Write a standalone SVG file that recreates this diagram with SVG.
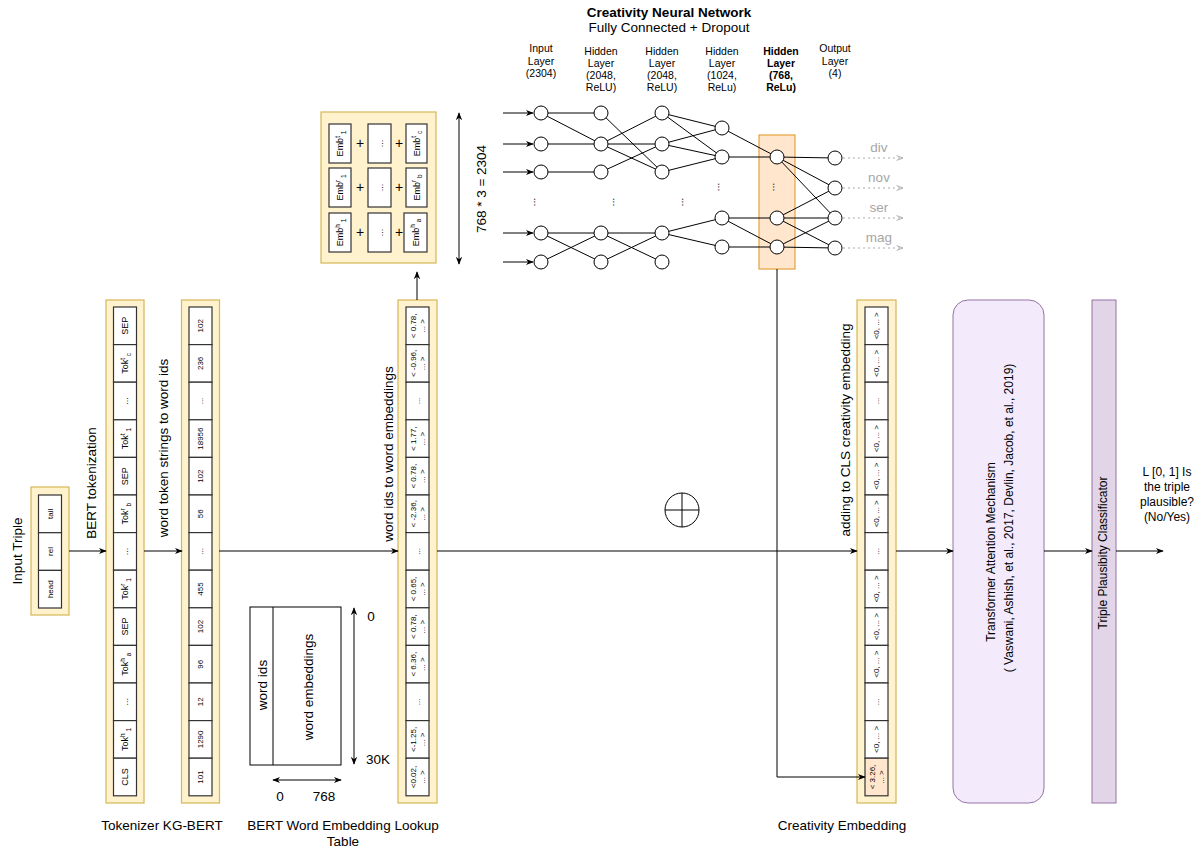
<svg xmlns="http://www.w3.org/2000/svg" width="1203" height="850" viewBox="0 0 1203 850">
<defs>
<style>
text{font-family:"Liberation Sans",Arial,Helvetica,sans-serif}
.y{fill:#fff2cc;stroke:#d6b656;stroke-width:1.2}
.c{fill:#fff;stroke:#333;stroke-width:1.2}
.co{fill:#ffe6cc;stroke:#333;stroke-width:1.2}
.ln{stroke:#000;stroke-width:1;fill:none}
.ar{stroke:#000;stroke-width:1;fill:none;marker-end:url(#ah)}
.da{stroke:#000;stroke-width:1;fill:none;marker-end:url(#ah);marker-start:url(#ah)}
.go{stroke:#aaa;stroke-width:1;fill:none;stroke-dasharray:2 3;marker-end:url(#ga)}
.n{fill:#fff;stroke:#000;stroke-width:1}
.s8{font-size:8px}
.s9{font-size:9px}
.s10{font-size:10.5px}
.s13{font-size:13.5px}
.g13 text{font-size:13.5px;fill:#a6a6a6}
</style>
<marker id="ah" viewBox="0 0 10 10" refX="9" refY="5" markerWidth="8" markerHeight="8" markerUnits="userSpaceOnUse" orient="auto-start-reverse">
<path d="M0,1 L10,5 L0,9 L3,5 z" fill="#000"/>
</marker>
<marker id="ga" viewBox="0 0 10 10" refX="9" refY="5" markerWidth="8" markerHeight="8" markerUnits="userSpaceOnUse" orient="auto">
<path d="M1,2 L9,5 L1,8" fill="none" stroke="#aaa" stroke-width="1.2"/>
</marker>
</defs>

<g id="input-triple">
<rect class="y" x="31" y="487" width="38" height="128"/>
<rect class="c" x="38.5" y="495" width="23" height="37.7"/>
<rect class="c" x="38.5" y="532.7" width="23" height="37.7"/>
<rect class="c" x="38.5" y="570.4" width="23" height="37.6"/>
<text class="s8" text-anchor="middle" dy="0.35em" transform="translate(50,513.8) rotate(-90)">tail</text>
<text class="s8" text-anchor="middle" dy="0.35em" transform="translate(50,551.5) rotate(-90)">rel</text>
<text class="s8" text-anchor="middle" dy="0.35em" transform="translate(50,589.2) rotate(-90)">head</text>
<text class="s13" text-anchor="middle" dy="0.35em" transform="translate(17,551) rotate(-90)">Input Triple</text>
</g>

<g id="labels-edges">
<text class="s13" text-anchor="middle" dy="0.35em" transform="translate(91,483) rotate(-90)">BERT tokenization</text>
<text class="s13" text-anchor="middle" dy="0.35em" transform="translate(163,448) rotate(-90)">word token strings to word ids</text>
<text class="s13" text-anchor="middle" dy="0.35em" transform="translate(388,454) rotate(-90)">word ids to word embeddings</text>
<text class="s13" text-anchor="middle" dy="0.35em" transform="translate(845,430) rotate(-90)">adding  to CLS creativity embedding</text>
<text class="s13" text-anchor="middle" dy="0.35em" transform="translate(481,189) rotate(-90)">768 * 3 = 2304</text>
</g>

<g id="tokenizer">
<rect class="y" x="106" y="300" width="38" height="503"/>
<rect class="c" x="113.5" y="307" width="23" height="37.6"/>
<rect class="c" x="113.5" y="344.6" width="23" height="37.6"/>
<rect class="c" x="113.5" y="382.2" width="23" height="37.6"/>
<rect class="c" x="113.5" y="419.8" width="23" height="37.6"/>
<rect class="c" x="113.5" y="457.4" width="23" height="37.6"/>
<rect class="c" x="113.5" y="495" width="23" height="37.6"/>
<rect class="c" x="113.5" y="532.6" width="23" height="37.6"/>
<rect class="c" x="113.5" y="570.2" width="23" height="37.6"/>
<rect class="c" x="113.5" y="607.8" width="23" height="37.6"/>
<rect class="c" x="113.5" y="645.4" width="23" height="37.6"/>
<rect class="c" x="113.5" y="683" width="23" height="37.6"/>
<rect class="c" x="113.5" y="720.6" width="23" height="37.6"/>
<rect class="c" x="113.5" y="758.2" width="23" height="37.6"/>
<g class="s9" text-anchor="middle">
<text dy="0.35em" transform="translate(125,325.8) rotate(-90)">SEP</text>
<text dy="0.35em" transform="translate(125,363.4) rotate(-90)">Tok<tspan font-size="6.5" dy="-3.5">t</tspan><tspan font-size="6.5" dy="6"> c</tspan></text>
<text dy="0.35em" transform="translate(125,401) rotate(-90)">...</text>
<text dy="0.35em" transform="translate(125,438.6) rotate(-90)">Tok<tspan font-size="6.5" dy="-3.5">t</tspan><tspan font-size="6.5" dy="6"> 1</tspan></text>
<text dy="0.35em" transform="translate(125,476.2) rotate(-90)">SEP</text>
<text dy="0.35em" transform="translate(125,513.8) rotate(-90)">Tok<tspan font-size="6.5" dy="-3.5">r</tspan><tspan font-size="6.5" dy="6"> b</tspan></text>
<text dy="0.35em" transform="translate(125,551.4) rotate(-90)">...</text>
<text dy="0.35em" transform="translate(125,589) rotate(-90)">Tok<tspan font-size="6.5" dy="-3.5">r</tspan><tspan font-size="6.5" dy="6"> 1</tspan></text>
<text dy="0.35em" transform="translate(125,626.6) rotate(-90)">SEP</text>
<text dy="0.35em" transform="translate(125,664.2) rotate(-90)">Tok<tspan font-size="6.5" dy="-3.5">h</tspan><tspan font-size="6.5" dy="6"> a</tspan></text>
<text dy="0.35em" transform="translate(125,701.8) rotate(-90)">...</text>
<text dy="0.35em" transform="translate(125,739.4) rotate(-90)">Tok<tspan font-size="6.5" dy="-3.5">h</tspan><tspan font-size="6.5" dy="6"> 1</tspan></text>
<text dy="0.35em" transform="translate(125,777) rotate(-90)">CLS</text>
</g>
<text class="s13" x="162" y="830" text-anchor="middle">Tokenizer KG-BERT</text>
</g>

<g id="word-ids">
<rect class="y" x="181.5" y="300" width="38" height="503"/>
<rect class="c" x="189" y="307" width="23" height="37.6"/>
<rect class="c" x="189" y="344.6" width="23" height="37.6"/>
<rect class="c" x="189" y="382.2" width="23" height="37.6"/>
<rect class="c" x="189" y="419.8" width="23" height="37.6"/>
<rect class="c" x="189" y="457.4" width="23" height="37.6"/>
<rect class="c" x="189" y="495" width="23" height="37.6"/>
<rect class="c" x="189" y="532.6" width="23" height="37.6"/>
<rect class="c" x="189" y="570.2" width="23" height="37.6"/>
<rect class="c" x="189" y="607.8" width="23" height="37.6"/>
<rect class="c" x="189" y="645.4" width="23" height="37.6"/>
<rect class="c" x="189" y="683" width="23" height="37.6"/>
<rect class="c" x="189" y="720.6" width="23" height="37.6"/>
<rect class="c" x="189" y="758.2" width="23" height="37.6"/>
<g class="s8" text-anchor="middle">
<text dy="0.35em" transform="translate(200.5,325.8) rotate(-90)">102</text>
<text dy="0.35em" transform="translate(200.5,363.4) rotate(-90)">236</text>
<text dy="0.35em" transform="translate(200.5,401) rotate(-90)">...</text>
<text dy="0.35em" transform="translate(200.5,438.6) rotate(-90)">18956</text>
<text dy="0.35em" transform="translate(200.5,476.2) rotate(-90)">102</text>
<text dy="0.35em" transform="translate(200.5,513.8) rotate(-90)">56</text>
<text dy="0.35em" transform="translate(200.5,551.4) rotate(-90)">...</text>
<text dy="0.35em" transform="translate(200.5,589) rotate(-90)">455</text>
<text dy="0.35em" transform="translate(200.5,626.6) rotate(-90)">102</text>
<text dy="0.35em" transform="translate(200.5,664.2) rotate(-90)">96</text>
<text dy="0.35em" transform="translate(200.5,701.8) rotate(-90)">12</text>
<text dy="0.35em" transform="translate(200.5,739.4) rotate(-90)">1290</text>
<text dy="0.35em" transform="translate(200.5,777) rotate(-90)">101</text>
</g>
</g>

<g id="lookup-table">
<rect x="250" y="607" width="91" height="158" fill="#fff" stroke="#000" stroke-width="1"/>
<line class="ln" x1="273" y1="607" x2="273" y2="765"/>
<text class="s13" text-anchor="middle" dy="0.35em" transform="translate(262,685) rotate(-90)">word ids</text>
<text class="s13" text-anchor="middle" dy="0.35em" transform="translate(308,687) rotate(-90)">word embeddings</text>
<text class="s13" x="371" y="621" text-anchor="middle">0</text>
<text class="s13" x="378" y="764" text-anchor="middle">30K</text>
<text class="s13" x="280" y="801" text-anchor="middle">0</text>
<text class="s13" x="324" y="801" text-anchor="middle">768</text>
<text class="s13" x="343" y="830" text-anchor="middle">BERT Word Embedding Lookup</text>
<text class="s13" x="343" y="846" text-anchor="middle">Table</text>
</g>

<g id="word-embeddings">
<rect class="y" x="398" y="300" width="39" height="503"/>
<rect class="c" x="406" y="307" width="23" height="37.6"/>
<rect class="c" x="406" y="344.6" width="23" height="37.6"/>
<rect class="c" x="406" y="382.2" width="23" height="37.6"/>
<rect class="c" x="406" y="419.8" width="23" height="37.6"/>
<rect class="c" x="406" y="457.4" width="23" height="37.6"/>
<rect class="c" x="406" y="495" width="23" height="37.6"/>
<rect class="c" x="406" y="532.6" width="23" height="37.6"/>
<rect class="c" x="406" y="570.2" width="23" height="37.6"/>
<rect class="c" x="406" y="607.8" width="23" height="37.6"/>
<rect class="c" x="406" y="645.4" width="23" height="37.6"/>
<rect class="c" x="406" y="683" width="23" height="37.6"/>
<rect class="c" x="406" y="720.6" width="23" height="37.6"/>
<rect class="c" x="406" y="758.2" width="23" height="37.6"/>
<g class="s8" text-anchor="middle">
<text transform="translate(417.5,325.8) rotate(-90)"><tspan x="0" dy="-1.5">&lt; 0.78,</tspan><tspan x="0" dy="9">... &gt;</tspan></text>
<text transform="translate(417.5,363.4) rotate(-90)"><tspan x="0" dy="-1.5">&lt; -0.96,</tspan><tspan x="0" dy="9">... &gt;</tspan></text>
<text dy="0.35em" transform="translate(417.5,401) rotate(-90)">...</text>
<text transform="translate(417.5,438.6) rotate(-90)"><tspan x="0" dy="-1.5">&lt; 1.77,</tspan><tspan x="0" dy="9">... &gt;</tspan></text>
<text transform="translate(417.5,476.2) rotate(-90)"><tspan x="0" dy="-1.5">&lt; 0.78,</tspan><tspan x="0" dy="9">... &gt;</tspan></text>
<text transform="translate(417.5,513.8) rotate(-90)"><tspan x="0" dy="-1.5">&lt; -2.36,</tspan><tspan x="0" dy="9">... &gt;</tspan></text>
<text dy="0.35em" transform="translate(417.5,551.4) rotate(-90)">...</text>
<text transform="translate(417.5,589) rotate(-90)"><tspan x="0" dy="-1.5">&lt; 0.65,</tspan><tspan x="0" dy="9">... &gt;</tspan></text>
<text transform="translate(417.5,626.6) rotate(-90)"><tspan x="0" dy="-1.5">&lt; 0.78,</tspan><tspan x="0" dy="9">... &gt;</tspan></text>
<text transform="translate(417.5,664.2) rotate(-90)"><tspan x="0" dy="-1.5">&lt; 6.36,</tspan><tspan x="0" dy="9">... &gt;</tspan></text>
<text dy="0.35em" transform="translate(417.5,701.8) rotate(-90)">...</text>
<text transform="translate(417.5,739.4) rotate(-90)"><tspan x="0" dy="-1.5">&lt;-1.25,</tspan><tspan x="0" dy="9">... &gt;</tspan></text>
<text transform="translate(417.5,777) rotate(-90)"><tspan x="0" dy="-1.5">&lt;0.02,</tspan><tspan x="0" dy="9">... &gt;</tspan></text>
</g>
</g>

<g id="embedding-sum">
<rect class="y" x="321" y="112" width="115" height="151"/>
<rect class="c" x="329" y="124" width="22" height="39"/>
<rect class="c" x="368" y="124" width="23" height="39"/>
<rect class="c" x="406" y="124" width="21" height="39"/>
<rect class="c" x="329" y="168" width="22" height="39"/>
<rect class="c" x="368" y="168" width="23" height="39"/>
<rect class="c" x="406" y="168" width="21" height="39"/>
<rect class="c" x="329" y="213" width="22" height="39"/>
<rect class="c" x="368" y="213" width="23" height="39"/>
<rect class="c" x="404" y="213" width="23" height="39"/>
<g font-size="14" text-anchor="middle">
<text x="360" y="148">+</text><text x="399" y="148">+</text>
<text x="360" y="192">+</text><text x="399" y="192">+</text>
<text x="360" y="237">+</text><text x="399" y="237">+</text>
</g>
<g class="s9" text-anchor="middle">
<text dy="0.35em" transform="translate(340,143.5) rotate(-90)">Emb<tspan font-size="6.5" dy="-3.5">t</tspan><tspan font-size="6.5" dy="6"> 1</tspan></text>
<text dy="0.35em" transform="translate(379.5,143.5) rotate(-90)">...</text>
<text dy="0.35em" transform="translate(416.5,143.5) rotate(-90)">Emb<tspan font-size="6.5" dy="-3.5">t</tspan><tspan font-size="6.5" dy="6"> c</tspan></text>
<text dy="0.35em" transform="translate(340,187.5) rotate(-90)">Emb<tspan font-size="6.5" dy="-3.5">r</tspan><tspan font-size="6.5" dy="6"> 1</tspan></text>
<text dy="0.35em" transform="translate(379.5,187.5) rotate(-90)">...</text>
<text dy="0.35em" transform="translate(416.5,187.5) rotate(-90)">Emb<tspan font-size="6.5" dy="-3.5">r</tspan><tspan font-size="6.5" dy="6"> b</tspan></text>
<text dy="0.35em" transform="translate(340,232.5) rotate(-90)">Emb<tspan font-size="6.5" dy="-3.5">h</tspan><tspan font-size="6.5" dy="6"> 1</tspan></text>
<text dy="0.35em" transform="translate(379.5,232.5) rotate(-90)">...</text>
<text dy="0.35em" transform="translate(415.5,232.5) rotate(-90)">Emb<tspan font-size="6.5" dy="-3.5">h</tspan><tspan font-size="6.5" dy="6"> a</tspan></text>
</g>
</g>

<g id="neural-network">
<text x="669" y="16.5" font-size="13.5" font-weight="bold" text-anchor="middle">Creativity Neural Network</text>
<text x="669" y="31.5" class="s13" text-anchor="middle">Fully Connected + Dropout</text>
<g class="s10" text-anchor="middle">
<text x="541" y="52">Input</text><text x="541" y="64.5">Layer</text><text x="541" y="76.5">(2304)</text>
<text x="601" y="55">Hidden</text><text x="601" y="67">Layer</text><text x="601" y="79">(2048,</text><text x="601" y="91">ReLU)</text>
<text x="662" y="55">Hidden</text><text x="662" y="67">Layer</text><text x="662" y="79">(2048,</text><text x="662" y="91">ReLU)</text>
<text x="722" y="55">Hidden</text><text x="722" y="67">Layer</text><text x="722" y="79">(1024,</text><text x="722" y="91">ReLu)</text>
<g font-weight="bold"><text x="781" y="55">Hidden</text><text x="781" y="67">Layer</text><text x="781" y="79">(768,</text><text x="781" y="91">ReLu)</text></g>
<text x="835" y="52">Output</text><text x="835" y="64.5">Layer</text><text x="835" y="76.5">(4)</text>
</g>
<rect x="759" y="135" width="36" height="134" fill="#ffe6cc" stroke="#e6a23c" stroke-width="1.2"/>
<g class="ln">
<line x1="503" y1="113" x2="533" y2="113" marker-end="url(#ah)"/>
<line x1="503" y1="144" x2="533" y2="144" marker-end="url(#ah)"/>
<line x1="503" y1="172" x2="533" y2="172" marker-end="url(#ah)"/>
<line x1="503" y1="233" x2="533" y2="233" marker-end="url(#ah)"/>
<line x1="503" y1="262" x2="533" y2="262" marker-end="url(#ah)"/>
<path d="M541,113 L601,113 M541,113 L601,144 M541,144 L601,144 M541,172 L601,172 M541,233 L601,233 M541,233 L601,262 M541,262 L601,233"/>
<path d="M601,113 L662,172 M601,144 L662,113 M601,144 L662,144 M601,144 L662,172 M601,172 L662,144 M601,233 L662,233 M601,262 L662,233 M601,233 L662,262"/>
<path d="M662,113 L722,128 M662,113 L722,157 M662,144 L722,128 M662,144 L722,157 M662,172 L722,157 M662,233 L722,218 M662,233 L722,247"/>
<path d="M722,128 L777,157 M722,157 L777,157 M722,218 L777,218 M722,218 L777,247 M722,247 L777,247"/>
<path d="M777,157 L835,158 M777,157 L835,188 M777,157 L835,218 M777,218 L835,188 M777,218 L835,218 M777,218 L835,248 M777,247 L835,218 M777,247 L835,248"/>
</g>
<g>
<circle class="n" cx="541" cy="113" r="7"/><circle class="n" cx="541" cy="144" r="7"/><circle class="n" cx="541" cy="172" r="7"/><circle class="n" cx="541" cy="233" r="7"/><circle class="n" cx="541" cy="262" r="7"/>
<circle class="n" cx="601" cy="113" r="7"/><circle class="n" cx="601" cy="144" r="7"/><circle class="n" cx="601" cy="172" r="7"/><circle class="n" cx="601" cy="233" r="7"/><circle class="n" cx="601" cy="262" r="7"/>
<circle class="n" cx="662" cy="113" r="7"/><circle class="n" cx="662" cy="144" r="7"/><circle class="n" cx="662" cy="172" r="7"/><circle class="n" cx="662" cy="233" r="7"/><circle class="n" cx="662" cy="262" r="7"/>
<circle class="n" cx="722" cy="128" r="7"/><circle class="n" cx="722" cy="157" r="7"/><circle class="n" cx="722" cy="218" r="7"/><circle class="n" cx="722" cy="247" r="7"/>
<circle class="n" cx="777" cy="157" r="7"/><circle class="n" cx="777" cy="218" r="7"/><circle class="n" cx="777" cy="247" r="7"/>
<circle class="n" cx="835" cy="158" r="7"/><circle class="n" cx="835" cy="188" r="7"/><circle class="n" cx="835" cy="218" r="7"/><circle class="n" cx="835" cy="248" r="7"/>
</g>
<g class="s10" text-anchor="middle">
<text dy="0.35em" transform="translate(538,202) rotate(90)">...</text>
<text dy="0.35em" transform="translate(617,202) rotate(90)">...</text>
<text dy="0.35em" transform="translate(686,202) rotate(90)">...</text>
<text dy="0.35em" transform="translate(722,187) rotate(90)">...</text>
<text dy="0.35em" transform="translate(777,187) rotate(90)">...</text>
</g>
<line class="go" x1="843" y1="158" x2="903" y2="158"/>
<line class="go" x1="843" y1="188" x2="903" y2="188"/>
<line class="go" x1="843" y1="218" x2="903" y2="218"/>
<line class="go" x1="843" y1="248" x2="903" y2="248"/>
<g class="g13" text-anchor="middle">
<text x="879" y="151.5">div</text><text x="879" y="181.5">nov</text><text x="879" y="211.5">ser</text><text x="879" y="241.5">mag</text>
</g>
</g>

<g id="plus">
<circle cx="682" cy="510" r="17" fill="#fff" stroke="#000" stroke-width="1"/>
<path class="ln" d="M665,510 H699 M682,493 V527"/>
</g>

<g id="creativity-embedding">
<rect class="y" x="857" y="300" width="39" height="503"/>
<rect class="c" x="865" y="307" width="23" height="37.6"/>
<rect class="c" x="865" y="344.6" width="23" height="37.6"/>
<rect class="c" x="865" y="382.2" width="23" height="37.6"/>
<rect class="c" x="865" y="419.8" width="23" height="37.6"/>
<rect class="c" x="865" y="457.4" width="23" height="37.6"/>
<rect class="c" x="865" y="495" width="23" height="37.6"/>
<rect class="c" x="865" y="532.6" width="23" height="37.6"/>
<rect class="c" x="865" y="570.2" width="23" height="37.6"/>
<rect class="c" x="865" y="607.8" width="23" height="37.6"/>
<rect class="c" x="865" y="645.4" width="23" height="37.6"/>
<rect class="c" x="865" y="683" width="23" height="37.6"/>
<rect class="c" x="865" y="720.6" width="23" height="37.6"/>
<rect class="co" x="865" y="758.2" width="23" height="37.6"/>
<g class="s8" text-anchor="middle">
<text dy="0.35em" transform="translate(876.5,325.8) rotate(-90)">&lt;0, ... &gt;</text>
<text dy="0.35em" transform="translate(876.5,363.4) rotate(-90)">&lt;0, ... &gt;</text>
<text dy="0.35em" transform="translate(876.5,401) rotate(-90)">...</text>
<text dy="0.35em" transform="translate(876.5,438.6) rotate(-90)">&lt;0, ... &gt;</text>
<text dy="0.35em" transform="translate(876.5,476.2) rotate(-90)">&lt;0, ... &gt;</text>
<text dy="0.35em" transform="translate(876.5,513.8) rotate(-90)">&lt;0, ... &gt;</text>
<text dy="0.35em" transform="translate(876.5,551.4) rotate(-90)">...</text>
<text dy="0.35em" transform="translate(876.5,589) rotate(-90)">&lt;0, ... &gt;</text>
<text dy="0.35em" transform="translate(876.5,626.6) rotate(-90)">&lt;0, ... &gt;</text>
<text dy="0.35em" transform="translate(876.5,664.2) rotate(-90)">&lt;0, ... &gt;</text>
<text dy="0.35em" transform="translate(876.5,701.8) rotate(-90)">...</text>
<text dy="0.35em" transform="translate(876.5,739.4) rotate(-90)">&lt;0, ... &gt;</text>
<text transform="translate(876.5,777) rotate(-90)"><tspan x="0" dy="-1.5">&lt; 3.26,</tspan><tspan x="0" dy="9">... &gt;</tspan></text>
</g>
<text class="s13" x="842" y="830" text-anchor="middle">Creativity Embedding</text>
</g>

<g id="transformer">
<rect x="953" y="300" width="91" height="503" rx="15" fill="#f3eafc" stroke="#9673a6" stroke-width="1"/>
<text font-size="12" text-anchor="middle" dy="0.35em" transform="translate(991,552) rotate(-90)">Transformer Attention Mechanism</text>
<text font-size="12" text-anchor="middle" dy="0.35em" transform="translate(1009,518) rotate(-90)">( Vaswani, Ashish, et al., 2017, Devlin, Jacob, et al., 2019)</text>
</g>

<g id="classifier">
<rect x="1092" y="300" width="24" height="503" fill="#e1d5e7" stroke="#9673a6" stroke-width="1"/>
<text font-size="12" text-anchor="middle" dy="0.35em" transform="translate(1103,553) rotate(-90)">Triple Plausibity Classificator</text>
</g>

<g id="output-label" font-size="12" text-anchor="middle">
<text x="1167" y="476">L [0, 1] Is</text>
<text x="1167" y="491">the triple</text>
<text x="1167" y="506">plausible?</text>
<text x="1167" y="521">(No/Yes)</text>
</g>

<g id="connectors">
<line class="ar" x1="69" y1="551" x2="106" y2="551"/>
<line class="ar" x1="144" y1="551" x2="182" y2="551"/>
<line class="ar" x1="219" y1="551" x2="398" y2="551"/>
<line class="ar" x1="437" y1="551" x2="857" y2="551"/>
<line class="ar" x1="896" y1="551" x2="953" y2="551"/>
<line class="ar" x1="1044" y1="551" x2="1092" y2="551"/>
<line class="ar" x1="1116" y1="551" x2="1163" y2="551"/>
<line class="ar" x1="417" y1="300" x2="417" y2="272"/>
<polyline class="ar" points="777,269 777,777 865,777"/>
<line class="da" x1="459" y1="113" x2="459" y2="264"/>
<line class="da" x1="354" y1="608" x2="354" y2="764"/>
<line class="da" x1="273" y1="780" x2="341" y2="780"/>
</g>
</svg>
